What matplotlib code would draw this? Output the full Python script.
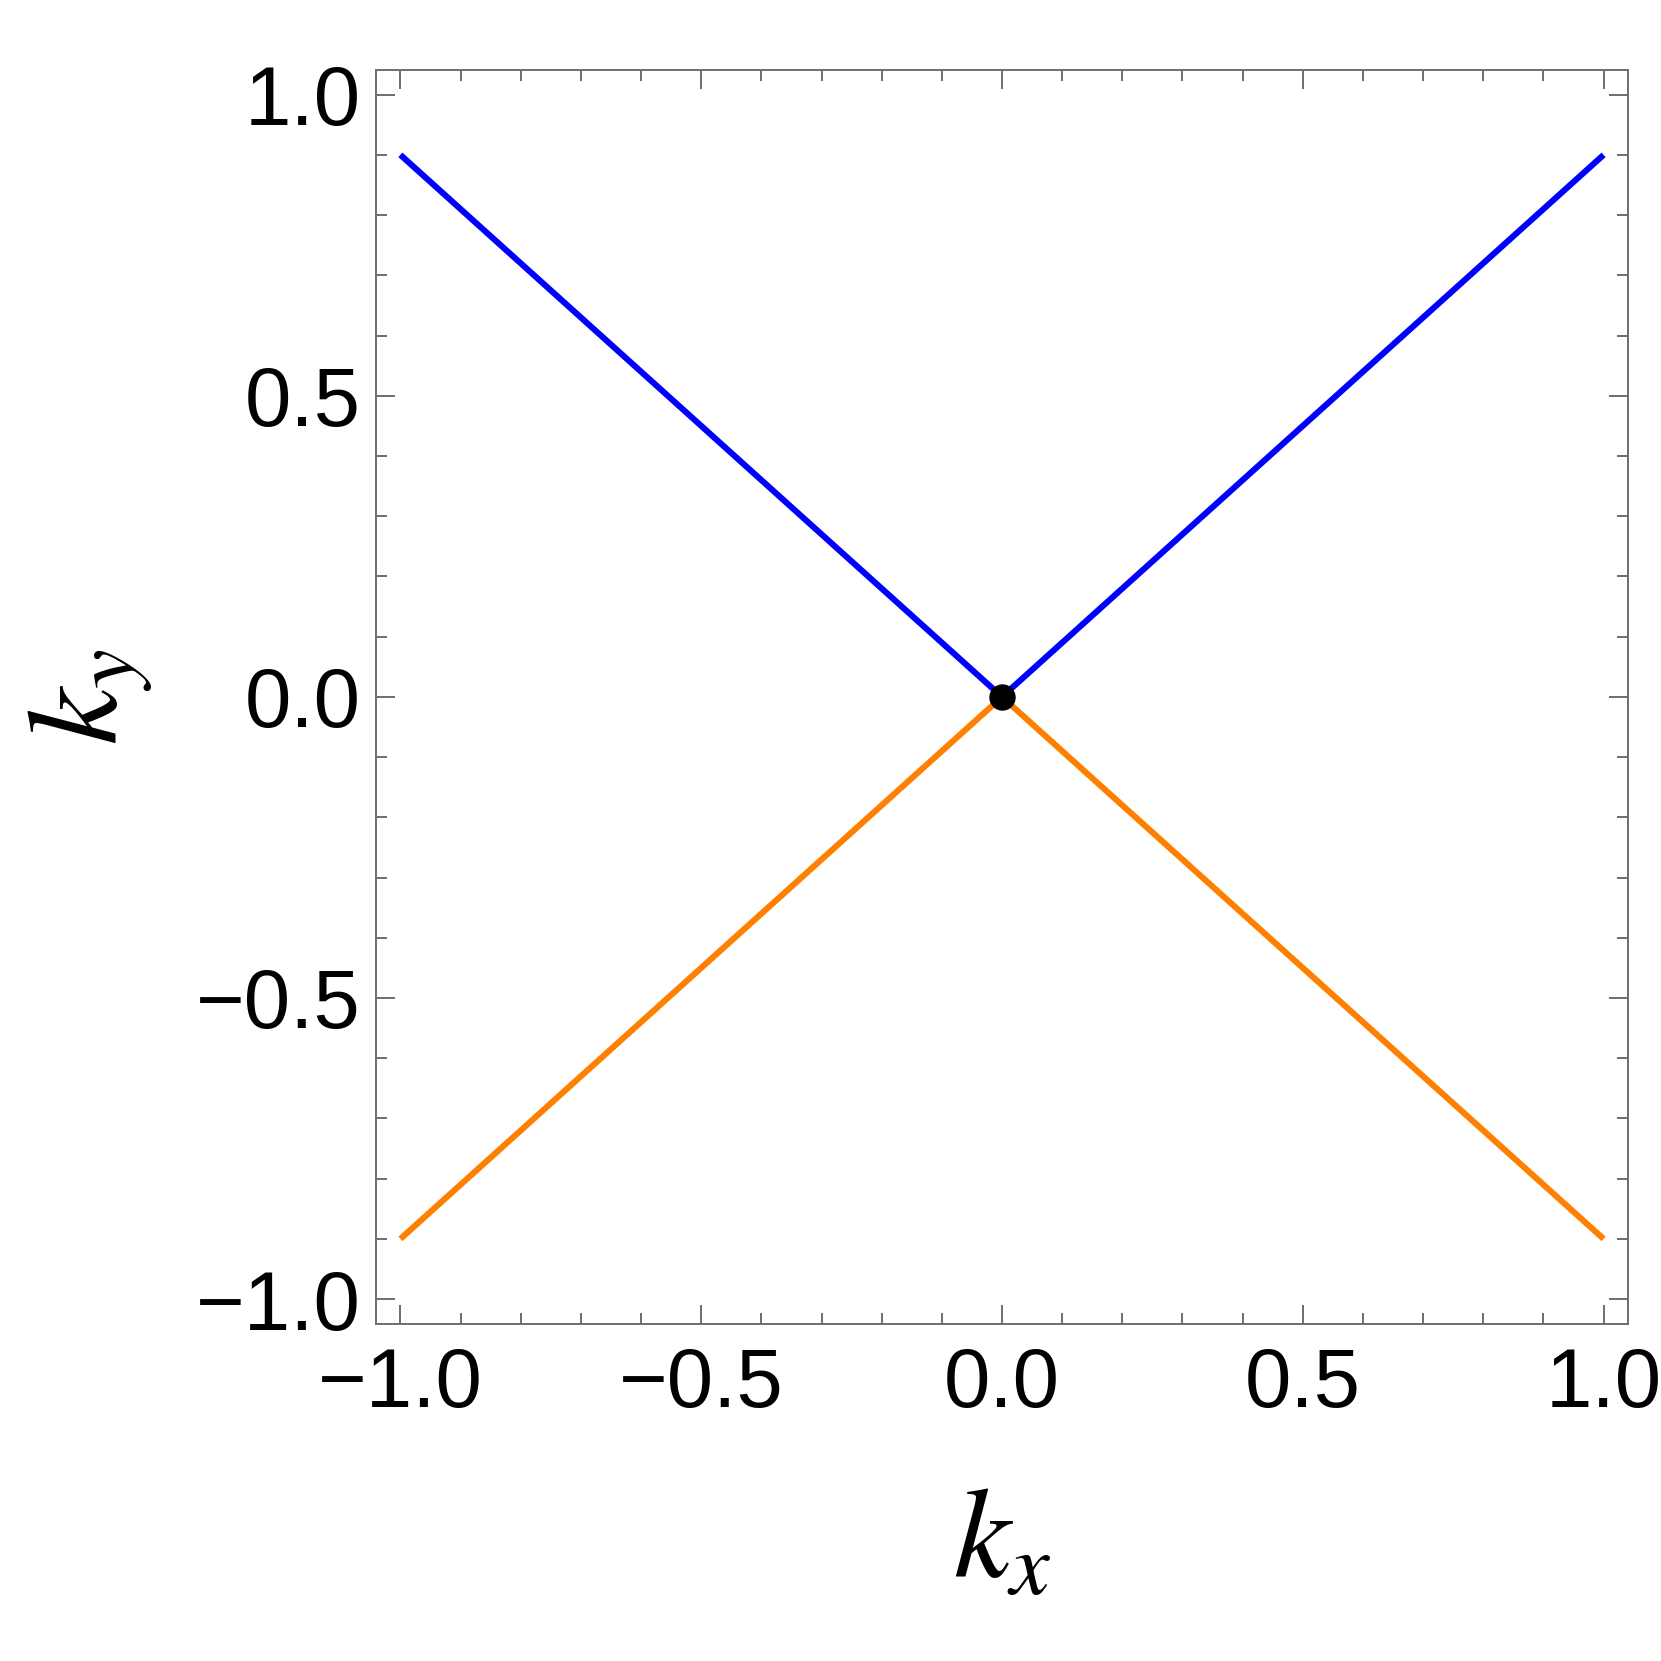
import matplotlib
matplotlib.use("Agg")
import matplotlib.pyplot as plt
from matplotlib.ticker import MultipleLocator, FixedLocator

plt.rcParams['font.family'] = ['Liberation Sans', 'DejaVu Sans']
plt.rcParams['mathtext.fontset'] = 'stix'

# data
kx = [-1.0, 0.0, 1.0]
upper_branch = [0.9, 0.0, 0.9]
lower_branch = [-0.9, 0.0, -0.9]
point_x = [0.0]
point_y = [0.0]
major_ticks = [-1.0, -0.5, 0.0, 0.5, 1.0]
tick_labels = ["\u22121.0", "\u22120.5", "0.0", "0.5", "1.0"]

fig = plt.figure(figsize=(16.61, 16.61), dpi=100)
ax = fig.add_axes([0.2262, 0.2030, 0.9803 - 0.2262, 0.9579 - 0.2030])

ax.plot(kx, upper_branch, color='#0000FF', lw=4.4, solid_capstyle='butt', zorder=2)
ax.plot(kx, lower_branch, color='#FF8000', lw=4.4, solid_capstyle='butt', zorder=2)
ax.plot(point_x, point_y, 'o', color='black', ms=18, zorder=3)

lim = 1.041
ax.set_xlim(-lim, lim)
ax.set_ylim(-lim, lim)

gray = '#6e6e6e'
for s in ax.spines.values():
    s.set_color(gray)
    s.set_linewidth(1.4)

for axis in (ax.xaxis, ax.yaxis):
    axis.set_major_locator(FixedLocator(major_ticks))
    axis.set_minor_locator(MultipleLocator(0.1))
ax.set_xticklabels(tick_labels)
ax.set_yticklabels(tick_labels)

ax.tick_params(which='both', direction='in', top=True, right=True, color=gray, width=1.4)
ax.tick_params(which='major', length=13.7, labelsize=60)
ax.tick_params(which='minor', length=7.9)
ax.tick_params(axis='x', which='major', pad=16)
ax.tick_params(axis='y', which='major', pad=11)

ax.set_xlabel(r'$k_x$', fontsize=92, labelpad=44)
ax.set_ylabel(r'$k_y$', fontsize=92, labelpad=30)

fig.savefig('out.png', dpi=100)
